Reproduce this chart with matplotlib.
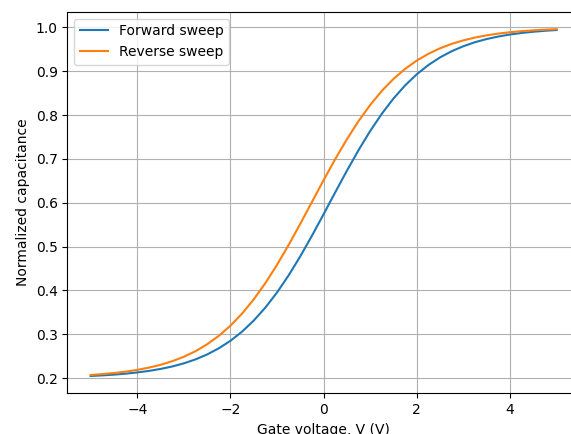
import numpy as np
import matplotlib
matplotlib.use("Agg")
from matplotlib import pyplot as plt

# gate voltage (V), 0.25 V steps
voltage = np.arange(-5.0, 5.001, 0.25)

# normalized capacitance
forward_c = [0.2047, 0.2060, 0.2077, 0.2099, 0.2127, 0.2162, 0.2207, 0.2263,
             0.2335, 0.2425, 0.2538, 0.2678, 0.2850, 0.3059, 0.3311, 0.3608,
             0.3953, 0.4345, 0.4780, 0.5249, 0.5740, 0.6240, 0.6732, 0.7202,
             0.7638, 0.8032, 0.8379, 0.8678, 0.8932, 0.9142, 0.9316, 0.9457,
             0.9570, 0.9662, 0.9734, 0.9791, 0.9837, 0.9872, 0.9900, 0.9922,
             0.9939]
reverse_c = [0.2069, 0.2089, 0.2114, 0.2145, 0.2186, 0.2237, 0.2301, 0.2383,
             0.2485, 0.2612, 0.2770, 0.2962, 0.3194, 0.3471, 0.3795, 0.4167,
             0.4584, 0.5039, 0.5522, 0.6020, 0.6517, 0.6998, 0.7450, 0.7864,
             0.8232, 0.8553, 0.8826, 0.9054, 0.9244, 0.9398, 0.9524, 0.9624,
             0.9704, 0.9768, 0.9818, 0.9858, 0.9889, 0.9913, 0.9932, 0.9947,
             0.9959]

fig = plt.figure(figsize=(5.71, 4.34), dpi=100)
# axes run past the right edge, as in the (cropped) reference
ax = fig.add_axes([0.118, 0.0938, 0.8977, 0.879])

ax.plot(voltage, forward_c, label="Forward sweep")
ax.plot(voltage, reverse_c, label="Reverse sweep")

ax.set_xlabel("Gate voltage, V (V)")
ax.set_ylabel("Normalized capacitance")
ax.grid(True)
ax.legend(loc="upper left")

fig.savefig("out.png", dpi=100)
